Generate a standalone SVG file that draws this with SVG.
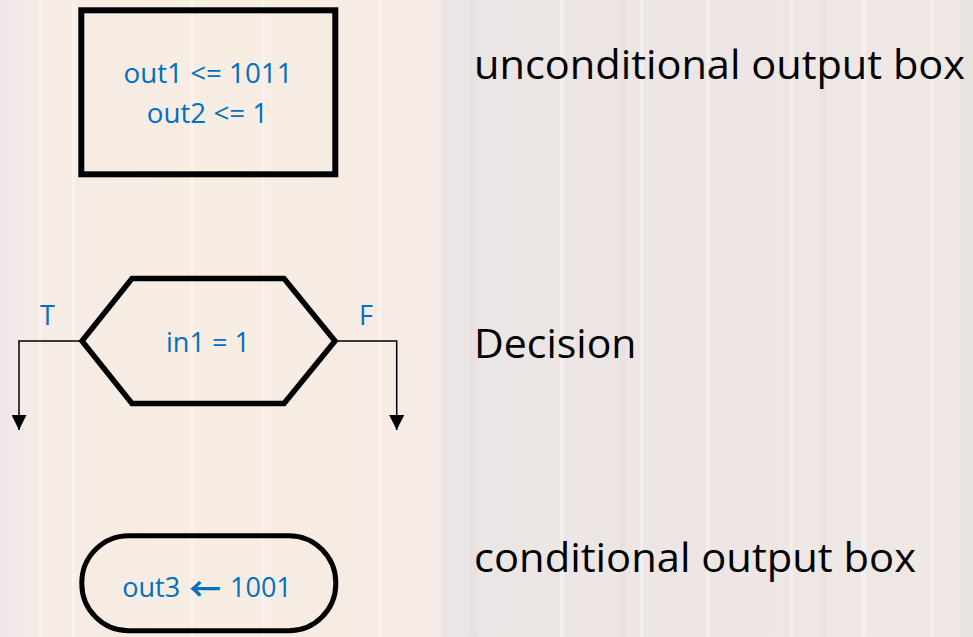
<svg xmlns="http://www.w3.org/2000/svg" width="973" height="637" viewBox="0 0 973 637">
<defs>
<linearGradient id="bgL" x1="0" y1="0" x2="1" y2="0">
<stop offset="0" stop-color="#efe6ec"/>
<stop offset="0.08" stop-color="#f6ece6"/>
<stop offset="0.5" stop-color="#f7ede2"/>
<stop offset="1" stop-color="#f6ebe6"/>
</linearGradient>
<linearGradient id="bgR" x1="0" y1="0" x2="1" y2="0">
<stop offset="0" stop-color="#ebe5e5"/>
<stop offset="0.5" stop-color="#ede6e4"/>
<stop offset="1" stop-color="#efe8e5"/>
</linearGradient>
<marker id="arr" viewBox="0 0 15 15" refX="15" refY="7.5" markerWidth="15" markerHeight="15" markerUnits="userSpaceOnUse" orient="auto">
<path d="M0,0 L15,7.5 L0,15 Z" fill="#000"/>
</marker>
<style>
.shape{fill:none;stroke:#000;stroke-linejoin:miter}
.blue{font-family:"Open Sans","Liberation Sans",sans-serif;fill:#0070c0;text-anchor:middle;font-size:27px}
.left{text-anchor:start}
.arrowglyph{font-family:"Noto Sans CJK JP","Noto Sans CJK SC",sans-serif;font-weight:bold;font-size:32px}
.lbl{font-family:"Open Sans","Liberation Sans",sans-serif;fill:#000;font-size:41px}
.conn{fill:none;stroke:#000;stroke-width:1.5}
.stripe{fill:#fff;opacity:0.35}
.stripeD{fill:#c8c0c0;opacity:0.1}
</style>
</defs>
<g id="background">
<rect x="0" y="0" width="441" height="637" fill="url(#bgL)"/>
<rect x="441" y="0" width="532" height="637" fill="url(#bgR)"/>
<rect class="stripe" x="38" y="0" width="4" height="637"/>
<rect class="stripe" x="72" y="0" width="3" height="637"/>
<rect class="stripe" x="190" y="0" width="4" height="637"/>
<rect class="stripe" x="262" y="0" width="3" height="637"/>
<rect class="stripe" x="378" y="0" width="3" height="637"/>
<rect class="stripe" x="560" y="0" width="4" height="637"/>
<rect class="stripe" x="640" y="0" width="3" height="637"/>
<rect class="stripe" x="706" y="0" width="4" height="637"/>
<rect class="stripe" x="790" y="0" width="3" height="637"/>
<rect class="stripe" x="862" y="0" width="4" height="637"/>
<rect class="stripe" x="930" y="0" width="3" height="637"/>
<rect class="stripeD" x="470" y="0" width="8" height="637"/>
<rect class="stripeD" x="620" y="0" width="6" height="637"/>
<rect class="stripeD" x="820" y="0" width="6" height="637"/>
<rect class="stripeD" x="960" y="0" width="13" height="637"/>
</g>
<g id="connectors">
<path class="conn" d="M80,341 H19 V430" marker-end="url(#arr)"/>
<path class="conn" d="M337,341 H396.7 V430" marker-end="url(#arr)"/>
<text class="blue" x="47.5" y="325">T</text>
<text class="blue" x="366" y="325">F</text>
</g>
<g id="unconditional-box">
<rect class="shape" x="81.3" y="10.3" width="254" height="164" stroke-width="6"/>
<text class="blue" x="208" y="83.3" textLength="169" lengthAdjust="spacingAndGlyphs">out1 &lt;= 1011</text>
<text class="blue" x="207.5" y="122.7" textLength="121.5" lengthAdjust="spacingAndGlyphs">out2 &lt;= 1</text>
</g>
<g id="decision">
<polygon class="shape" stroke-width="5.5" points="82,341 132,278.5 284,278.5 335,341 284,403.5 132,403.5"/>
<text class="blue" x="208" y="351.7" textLength="84" lengthAdjust="spacingAndGlyphs">in1 = 1</text>
</g>
<g id="conditional-box">
<rect class="shape" x="81.8" y="535.8" width="254" height="95" rx="47" ry="47" stroke-width="5"/>
<text class="blue left" x="122.3" y="596.7">out3 <tspan class="arrowglyph" x="189" y="601">←</tspan><tspan x="230" y="596.7">1001</tspan></text>
</g>
<g id="labels">
<text class="lbl" x="474" y="79" textLength="491" lengthAdjust="spacingAndGlyphs">unconditional output box</text>
<text class="lbl" x="474" y="357.5">Decision</text>
<text class="lbl" x="474" y="572" textLength="442" lengthAdjust="spacingAndGlyphs">conditional output box</text>
</g>
</svg>
